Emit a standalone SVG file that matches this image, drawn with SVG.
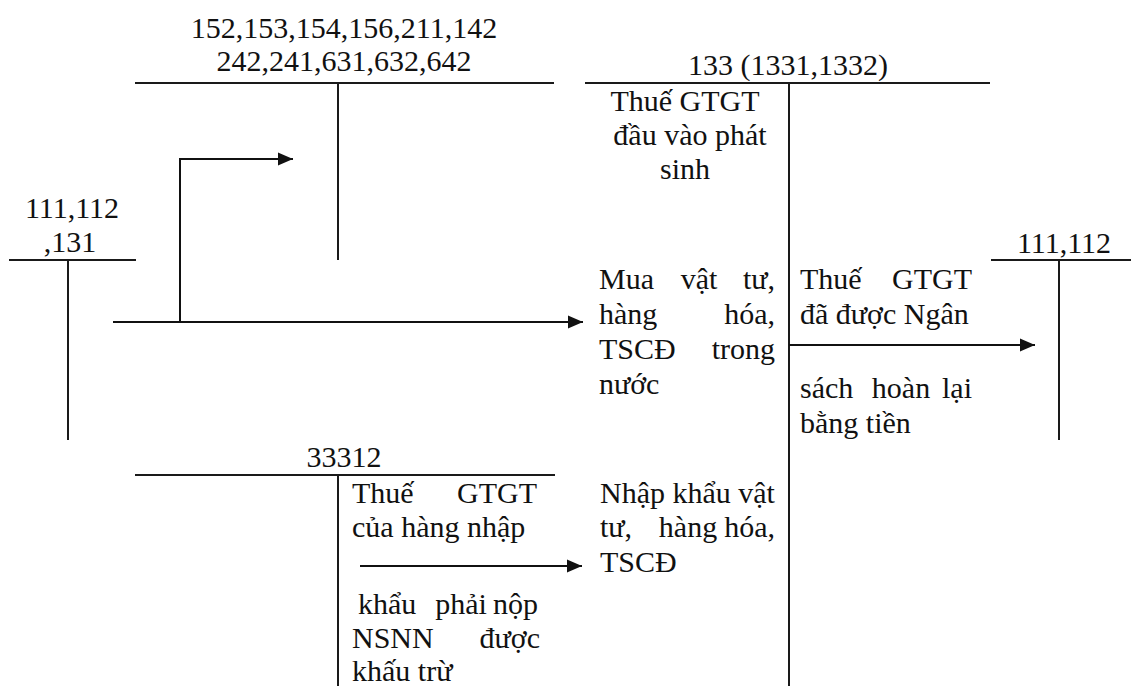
<svg xmlns="http://www.w3.org/2000/svg" width="1131" height="686" viewBox="0 0 1131 686">
<style>
text{font-family:"Liberation Serif","Times New Roman",serif;font-size:30px;fill:#111}
.m{text-anchor:middle}
.e{text-anchor:end}
.ln{stroke:#1a1a1a;stroke-width:2;fill:none}
.ar{stroke:#111;stroke-width:2;fill:none;marker-end:url(#ah)}
</style>
<defs>
<marker id="ah" markerUnits="userSpaceOnUse" markerWidth="16" markerHeight="14" refX="15" refY="7" orient="auto">
<path d="M0,0.5 L15,7 L0,13.5 Z" fill="#111"/>
</marker>
</defs>
<rect width="1131" height="686" fill="#fff"/>

<g id="acc-152">
<text class="m" x="344" y="38">152,153,154,156,211,142</text>
<text class="m" x="344" y="71">242,241,631,632,642</text>
<path class="ln" d="M135,83 H554 M338,83 V260"/>
</g>

<g id="acc-133">
<text class="m" x="788" y="75">133 (1331,1332)</text>
<path class="ln" d="M585,83 H990 M789,83 V686"/>
<text class="m" x="685" y="111">Thuế GTGT</text>
<text class="m" x="690" y="145">đầu vào phát</text>
<text class="m" x="685" y="179">sinh</text>
</g>

<g id="acc-111-left">
<text class="m" x="72" y="218">111,112</text>
<text class="m" x="70" y="252">,131</text>
<path class="ln" d="M9,260 H136 M68,260 V440"/>
</g>

<g id="acc-111-right">
<text class="m" x="1064" y="253">111,112</text>
<path class="ln" d="M991,260 H1131 M1059,260 V440"/>
</g>

<g id="acc-33312">
<text class="m" x="344" y="467">33312</text>
<path class="ln" d="M135,475 H555 M338,475 V686"/>
</g>

<g id="connectors">
<path class="ar" d="M113,322 H583"/>
<path class="ar" d="M180,322 V159 H293"/>
<path class="ar" d="M789,345 H1035"/>
<path class="ar" d="M360,566 H582"/>
</g>

<g id="label-mua">
<text x="599" y="289">Mua</text><text class="m" x="699" y="289">vật</text><text class="e" x="775" y="289">tư,</text>
<text x="599" y="324">hàng</text><text class="e" x="775" y="324">hóa,</text>
<text x="599" y="359">TSCĐ</text><text class="e" x="775" y="359">trong</text>
<text x="599" y="394">nước</text>
</g>

<g id="label-hoan">
<text x="800" y="289">Thuế</text><text class="e" x="972" y="289">GTGT</text>
<text x="800" y="324">đã được Ngân</text>
<text x="800" y="398">sách</text><text class="m" x="901" y="398">hoàn</text><text class="e" x="972" y="398">lại</text>
<text x="800" y="433">bằng tiền</text>
</g>

<g id="label-33312">
<text x="352" y="503">Thuế</text><text class="e" x="537" y="503">GTGT</text>
<text x="352" y="537">của hàng nhập</text>
<text x="358" y="614">khẩu</text><text class="m" x="461" y="614">phải</text><text class="e" x="538" y="614">nộp</text>
<text x="352" y="648">NSNN</text><text class="e" x="540" y="648">được</text>
<text x="352" y="681">khấu trừ</text>
</g>

<g id="label-nhap">
<text x="600" y="503">Nhập khẩu vật</text>
<text x="600" y="537">tư,</text><text class="m" x="688" y="537">hàng</text><text class="e" x="775" y="537">hóa,</text>
<text x="600" y="572">TSCĐ</text>
</g>
</svg>
